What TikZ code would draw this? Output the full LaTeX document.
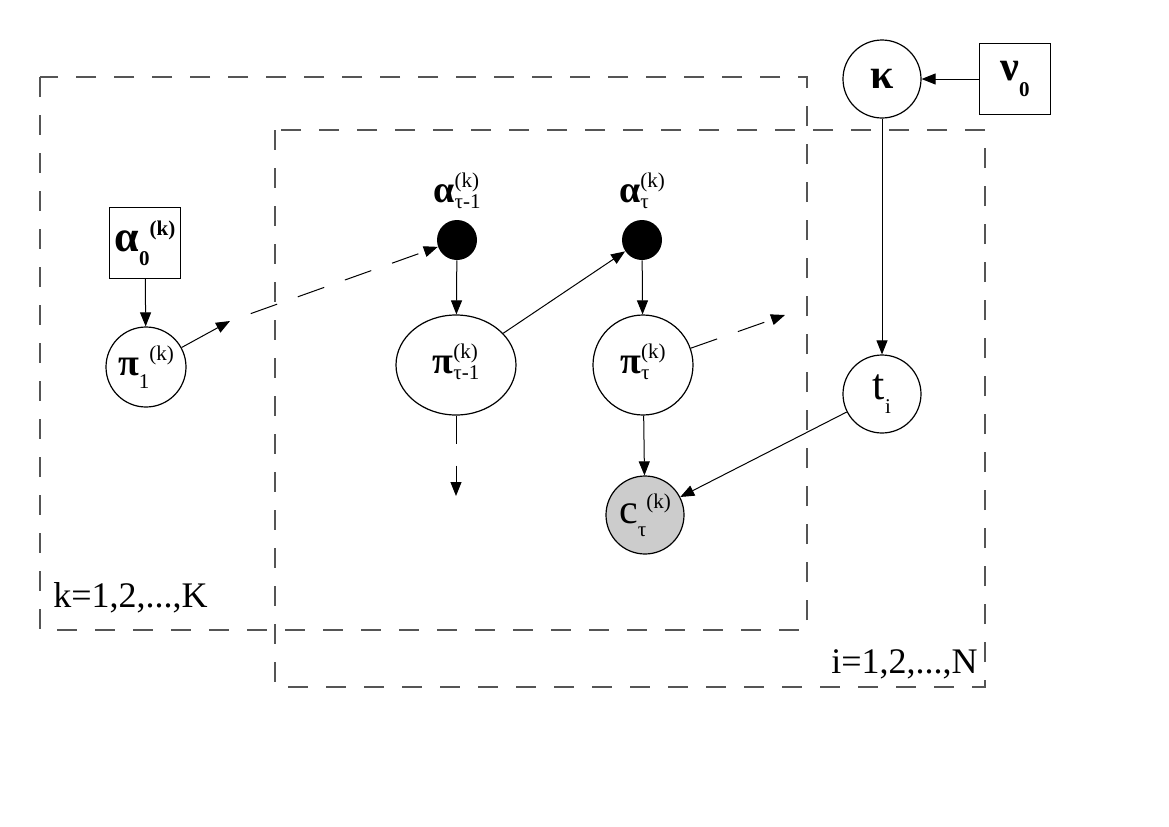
\documentclass[tikz,border=0pt]{standalone}
\usepackage{fontspec}
\setmainfont{Liberation Serif}
\usetikzlibrary{arrows.meta,positioning,shapes.geometric}
\definecolor{platecol}{RGB}{85,85,85}
\definecolor{obsfill}{RGB}{204,204,204}
\newcommand\subf{\fontsize{10.5}{11}\selectfont\mdseries}
\newcommand\grk{\fontsize{19}{21}\selectfont\bfseries}
% letter, lowered subscript, then raised superscript after it
\newcommand\seqss[3]{{#1}\raisebox{-6.5pt}{\subf #2}\raisebox{7.5pt}{\subf #3}}
% letter with superscript stacked over subscript
\newcommand\stkss[3]{{#1}\raisebox{-3pt}{\subf\begin{tabular}[b]{@{}l@{}}#3\\[-0.5pt]#2\end{tabular}}}

\begin{document}
\begin{tikzpicture}[x=0.5pt,y=-0.5pt,
    var/.style={draw,circle,fill=white,inner sep=0pt,line width=0.6pt},
    hyper/.style={draw,rectangle,fill=white,minimum size=35.5pt,inner sep=0pt,line width=0.6pt},
    dot/.style={circle,fill=black,minimum size=20pt,inner sep=0pt},
    arr/.style={-{Triangle[length=7pt,width=5.5pt]},line width=0.5pt},
    longdash/.style={dash pattern=on 14pt off 11pt},
    plate/.style={draw=platecol,dash pattern=on 10pt off 9pt,line width=0.6pt},
    platelbl/.style={font=\fontsize{18}{20}\selectfont,inner sep=0pt}]
  \fill[white] (0,0) rectangle (1169,826);
  \useasboundingbox (0,0) rectangle (1169,826);

  % plates
  \draw[plate] (40,77) rectangle (807,630);
  \draw[plate] (275,130) rectangle (985,687);
  \node[platelbl,anchor=base west] (klbl) at (53,607) {k=1,2,...,K};
  \node[platelbl,anchor=base east] (ilbl) at (978,673) {i=1,2,...,N};

  % nodes
  \node[hyper] (a0) at (145,243)
    {{\fontsize{22}{24}\selectfont\bfseries α}\raisebox{-7pt}{\subf\bfseries 0}\raisebox{8pt}{\subf\bfseries (k)}};
  \node[var,minimum size=40pt] (p1) at (146,367) {\seqss{\grk π}{1}{(k)}};
  \node[dot] (atm1) at (457,240) {};
  \node[above=2pt of atm1,inner sep=0pt] (latm1) {\stkss{\grk α}{τ-1}{(k)}};
  \node[dot] (at) at (642,240) {};
  \node[above=2pt of at,inner sep=0pt] (lat) {\stkss{\grk α}{τ}{(k)}};
  \node[var,ellipse,minimum width=60pt,minimum height=50pt] (ptm1) at (456,365)
    {\stkss{\grk π}{τ-1}{(k)}};
  \node[var,minimum size=50pt] (pt) at (643,365) {\stkss{\grk π}{τ}{(k)}};
  \node[var,fill=obsfill,minimum size=39pt] (ct) at (645,515)
    {\seqss{\fontsize{21}{22}\selectfont c}{τ}{(k)}};
  \node[var,minimum size=39pt] (ti) at (882,394)
    {{\fontsize{22}{24}\selectfont t}\raisebox{-7pt}{\subf i}};
  \node[var,minimum size=39pt] (kap) at (882,79) {\fontsize{21}{22}\selectfont\bfseries κ};
  \node[hyper] (nu) at (1015,79)
    {{\fontsize{21}{22}\selectfont\bfseries ν}\raisebox{-8pt}{\subf\bfseries 0}};

  % loose ends
  \coordinate (m1) at (230,321);
  \coordinate (e1) at (785,315);
  \coordinate (d1) at (456,496);

  % edges
  \draw[arr] (a0) -- (p1);
  \draw[arr] (p1) -- (m1);
  \draw[arr,longdash,dash phase=14pt] (m1) -- (atm1);
  \draw[arr] (atm1) -- (ptm1);
  \draw[arr] (ptm1) -- (at);
  \draw[arr] (at) -- (pt);
  \draw[arr,longdash] (pt) -- (e1);
  \draw[arr,longdash] (ptm1) -- (d1);
  \draw[arr] (pt) -- (ct);
  \draw[arr] (ti) -- (ct);
  \draw[arr] (kap) -- (ti);
  \draw[arr] (nu) -- (kap);
\end{tikzpicture}
\end{document}
